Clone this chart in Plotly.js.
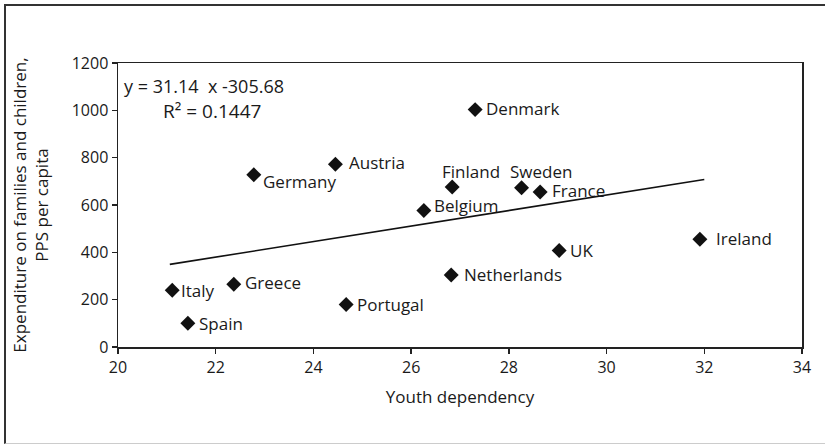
<!DOCTYPE html>
<html>
<head>
<meta charset="utf-8">
<script src="https://cdn.plot.ly/plotly-3.0.1.min.js"></script>
<style>
html,body{margin:0;padding:0;background:#fff;}
#wrap{position:relative;width:825px;height:446px;overflow:hidden;}
#frame{position:absolute;left:4px;top:4px;width:830px;height:440px;border-left:2px solid #333;border-top:2px solid #333;border-bottom:1px solid #ccc;box-sizing:border-box;pointer-events:none;z-index:5;}
#chart{position:absolute;left:0;top:0;width:825px;height:446px;}
</style>
</head>
<body>
<div id="wrap"><div id="chart"></div><div id="frame"></div></div>
<script>
var countries = ["Italy","Spain","Greece","Portugal","Germany","Austria","Belgium","Denmark","Finland","Sweden","France","UK","Netherlands","Ireland"];
var youthDependency = [21.11, 21.43, 22.37, 24.67, 22.78, 24.45, 26.26, 27.31, 26.84, 28.26, 28.64, 29.03, 26.82, 31.91];
var expenditure = [240, 100, 265, 180, 728, 772, 577, 1003, 676, 673, 655, 408, 304, 455];
var trendX = [21.06, 32.0];
var trendY = [349, 708];
var xTicks = [20, 22, 24, 26, 28, 30, 32, 34];
var yTicks = [0, 200, 400, 600, 800, 1000, 1200];
var equationText = "y = 31.14  x -305.68";
var r2Text = "R\u00B2 = 0.1447";

// label placement styling (pixel offsets from marker), separate from data
var labelAnchor = ["left","left","left","left","left","left","left","left","center","center","left","left","left","left"];
var labelDx = [7, 9, 9, 9, 7, 12, 8, 9, 19, 19, 10, 9, 11, 14];
var labelDy = [0, 0, 2, 0, -7, 2, 5, 1, 16, 16, 1, 0, 1, 1];

var font = "Open Sans, Noto Sans, sans-serif";

var traces = [
  {
    x: trendX, y: trendY, mode: "lines", type: "scatter",
    line: {color: "#111", width: 1.6}, hoverinfo: "skip", showlegend: false
  },
  {
    x: youthDependency, y: expenditure, mode: "markers", type: "scatter",
    marker: {symbol: "diamond", size: 11.5, color: "#111"},
    showlegend: false, cliponaxis: false
  }
];

var annotations = countries.map(function (c, i) {
  return {
    x: youthDependency[i], y: expenditure[i], xref: "x", yref: "y",
    text: c, showarrow: false, xanchor: labelAnchor[i], yanchor: "middle",
    xshift: labelDx[i], yshift: labelDy[i],
    font: {family: font, size: 17, color: "#1a1a1a"}
  };
});
annotations.push(
  {xref: "paper", yref: "paper", x: 0.006, y: 0.918, xanchor: "left", yanchor: "middle",
   text: equationText, showarrow: false, font: {family: font, size: 18, color: "#1a1a1a"}},
  {xref: "paper", yref: "paper", x: 0.063, y: 0.83, xanchor: "left", yanchor: "middle",
   text: r2Text, showarrow: false, font: {family: font, size: 19, color: "#1a1a1a"}}
);

var layout = {
  width: 825, height: 446,
  margin: {l: 118, r: 23, t: 63, b: 99, pad: 0},
  paper_bgcolor: "#fff", plot_bgcolor: "#fff",
  font: {family: font, size: 16, color: "#1a1a1a"},
  showlegend: false,
  xaxis: {
    range: [20, 34], tickvals: xTicks, ticktext: xTicks.map(String),
    showgrid: false, zeroline: false,
    showline: true, linecolor: "#222", linewidth: 1.5, mirror: true,
    ticks: "outside", ticklen: 5, tickwidth: 1.5, tickcolor: "#222",
    tickfont: {family: font, size: 16, color: "#1a1a1a"},
    title: {text: "Youth dependency", font: {family: font, size: 17, color: "#1a1a1a"}, standoff: 14}
  },
  yaxis: {
    range: [0, 1200], tickvals: yTicks, ticktext: yTicks.map(String),
    showgrid: false, zeroline: false,
    showline: true, linecolor: "#222", linewidth: 1.5, mirror: true,
    ticks: "outside", ticklen: 5, tickwidth: 1.5, tickcolor: "#222",
    tickfont: {family: font, size: 16, color: "#1a1a1a"},
    title: {text: "Expenditure on families and children,<br>PPS per capita", font: {family: font, size: 17, color: "#1a1a1a"}, standoff: 18}
  },
  annotations: annotations
};

Plotly.newPlot("chart", traces, layout, {displayModeBar: false, staticPlot: true});
</script>
</body>
</html>
